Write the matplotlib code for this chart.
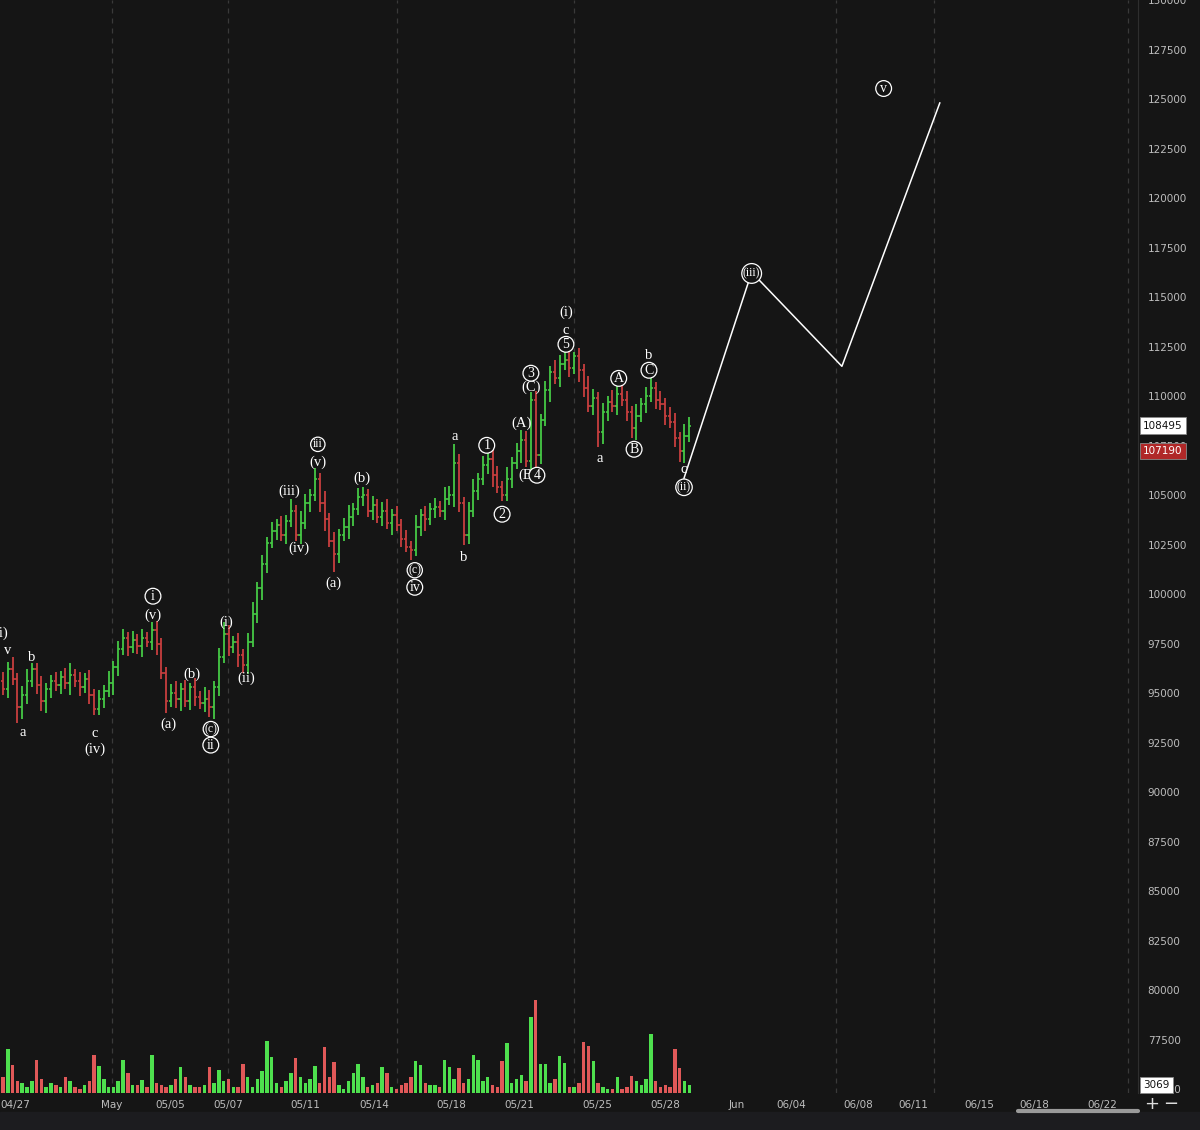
import matplotlib
matplotlib.use("Agg")
import matplotlib.pyplot as plt
from matplotlib.patches import Rectangle

# ---------------- data (prices in thousands) ----------------
closes = [95.2, 96.2, 95.7, 94.3, 94.9, 95.6, 96.2, 95.4, 94.6, 95.2,
          95.6, 95.4, 95.8, 95.5, 95.9, 95.6, 95.3, 95.7, 94.9, 94.2,
          94.7, 95.1, 95.5, 96.3, 97.2, 97.8, 97.3, 97.7, 97.4, 97.8,
          97.6, 98.2, 97.5, 96.0, 94.6, 95.0, 94.7, 95.2, 94.6, 95.3,
          94.8, 94.5, 94.7, 94.3, 95.3, 96.8, 98.0, 97.3, 97.6, 96.9,
          96.4, 97.6, 99.0, 100.3, 101.5, 102.6, 103.2, 103.5, 103.0, 103.7,
          104.2, 103.0, 103.6, 104.6, 105.0, 105.8, 104.6, 103.8, 102.7, 102.0,
          103.0, 103.4, 103.9, 104.3, 104.9, 105.0, 104.2, 104.5, 103.9, 104.2,
          103.6, 104.0, 103.5, 102.8, 102.4, 102.2, 103.4, 104.0, 103.8, 104.3,
          104.4, 104.2, 104.8, 105.0, 106.6, 104.6, 103.0, 104.2, 105.2, 105.8,
          106.5, 106.8, 106.0, 105.4, 105.0, 105.8, 106.6, 107.2, 107.8, 106.7,
          109.8, 107.0, 108.8, 110.3, 111.2, 110.9, 111.6, 111.8, 111.4, 112.0,
          111.3, 110.4, 109.5, 109.9, 108.2, 109.2, 109.7, 109.5, 110.1, 109.8,
          109.2, 108.4, 109.0, 109.6, 110.0, 110.4, 109.8, 109.6, 109.0, 108.7,
          107.9, 107.2, 108.0, 108.495]
open0 = 95.6
# wick sizes in units of 150 dollars, one digit per bar
wick_up = ("3242343232" "2323423232" "3242332323" "2432234232" "3243232323"
           "2342323232" "3243232423" "2342342323" "4232324232" "3243232342"
           "3243242323" "4323243232" "3243232423" "3242342323" "3243")
wick_dn = ("2323432324" "3232423232" "2324323234" "2342323423" "3232432324"
           "2323432323" "2432323423" "3243232323" "2423232342" "3232432323"
           "2342323242" "3232423232" "4323243232" "3242323232" "3242")
extreme_highs = [(1, 96.55), (6, 96.5), (31, 98.6), (39, 95.5), (46, 98.6), (60, 104.8),
                 (65, 106.35), (75, 105.4), (94, 107.6), (101, 107.2), (108, 108.3),
                 (110, 110.2), (117, 112.3), (119, 112.2), (128, 110.5), (135, 110.9)]
extreme_lows = [(3, 93.5), (8, 94.1), (19, 93.9), (34, 94.0), (43, 93.8), (50, 96.0),
                (61, 102.7), (69, 101.1), (85, 101.7), (96, 102.5), (104, 104.7),
                (109, 106.4), (111, 106.2), (124, 107.4), (131, 107.9), (141, 106.65)]
volumes = [16, 44, 28, 12, 10, 6, 12, 33, 14, 6,
           10, 8, 6, 16, 12, 6, 4, 8, 12, 38,
           27, 14, 6, 6, 12, 33, 20, 8, 8, 13,
           6, 38, 10, 8, 6, 8, 14, 26, 16, 8,
           6, 6, 8, 26, 10, 23, 12, 14, 6, 6,
           29, 16, 6, 14, 22, 52, 36, 10, 6, 12,
           20, 35, 16, 10, 14, 27, 10, 46, 16, 31,
           8, 4, 12, 20, 29, 16, 6, 8, 10, 26,
           20, 6, 4, 8, 10, 16, 32, 28, 10, 8,
           8, 6, 33, 26, 14, 25, 10, 14, 38, 33,
           12, 16, 8, 6, 32, 50, 10, 14, 18, 12,
           76, 93, 29, 29, 10, 14, 37, 30, 6, 6,
           10, 51, 47, 32, 10, 6, 4, 4, 16, 4,
           6, 17, 12, 8, 14, 59, 12, 6, 8, 6,
           44, 25, 12, 8]

proj_x = [141.9, 156.0, 174.8, 195.2]
proj_y = [105.85, 116.25, 111.5, 124.8]

# (bar, price, text, circled)
wave_labels = [
    (-1.2, 98.02, "(iii)", False), (1.0, 97.16, "v", False), (4.0, 93.02, "a", False),
    (6.0, 96.81, "b", False), (19.2, 92.97, "c", False), (19.2, 92.17, "(iv)", False),
    (31.25, 99.89, "i", True), (31.25, 98.93, "(v)", False), (34.4, 93.43, "(a)", False),
    (39.4, 95.95, "(b)", False), (43.3, 93.18, "(c)", True), (43.3, 92.37, "ii", True),
    (46.5, 98.58, "(i)", False), (50.6, 95.75, "(ii)", False), (59.6, 105.19, "(iii)", False),
    (61.7, 102.31, "(iv)", False), (65.6, 107.56, "iii", True), (65.6, 106.65, "(v)", False),
    (68.75, 100.55, "(a)", False), (74.8, 105.85, "(b)", False), (85.8, 101.2, "(c)", True),
    (85.8, 100.34, "iv", True), (94.2, 107.97, "a", False), (96.0, 101.86, "b", False),
    (100.8, 107.51, "1", True), (104.0, 104.03, "2", True), (108.1, 108.62, "(A)", False),
    (109.0, 106.0, "(B", False), (111.25, 106.0, "4", True), (110.0, 110.44, "(C)", False),
    (110.0, 111.15, "3", True), (117.3, 112.61, "5", True), (117.3, 113.32, "c", False),
    (117.3, 114.23, "(i)", False), (124.4, 106.86, "a", False), (128.3, 110.89, "A", True),
    (131.5, 107.31, "B", True), (134.6, 111.3, "C", True), (134.6, 112.05, "b", False),
    (141.9, 106.3, "c", False), (141.9, 105.39, "(ii)", True), (156.0, 116.19, "(iii)", True),
    (183.5, 125.53, "v", True),
]

tick_pos = [2.5, 22.7, 34.8, 46.9, 62.9, 77.3, 93.5, 107.5, 123.75, 138.1,
            152.9, 164.2, 178.3, 189.6, 203.5, 214.8, 229.0]
tick_labels = ["04/27", "May", "05/05", "05/07", "05/11", "05/14", "05/18", "05/21",
               "05/25", "05/28", "Jun", "06/04", "06/08", "06/11", "06/15", "06/18", "06/22"]
grid_pos = [22.7, 46.9, 82.1, 119.0, 173.5, 194.0, 234.4]
price_ticks = [75000 + 2500 * k for k in range(23)]
last_price = 108495
mark_price = 107190
last_volume = 3069

# ---------------- drawing ----------------
BG = "#151515"
GREEN = "#45c945"
RED = "#c83f3f"
VGREEN = "#4ee04e"
VRED = "#e05858"
YMIN, YMAX = 74800, 129975

fig = plt.figure(figsize=(12, 11.3), dpi=100, facecolor=BG)
H = 1130.0
ax = fig.add_axes([0, 37 / H, 1138 / 1200, 1093 / H])
ax.set_facecolor(BG)
ax.set_xlim(-0.625, 236.5)
ax.set_ylim(YMIN, YMAX)

n = len(closes)
opens = [open0] + closes[:-1]
highs = [max(opens[i], closes[i]) + int(wick_up[i]) * 0.15 for i in range(n)]
lows = [min(opens[i], closes[i]) - int(wick_dn[i]) * 0.15 for i in range(n)]
for i, v in extreme_highs:
    highs[i] = v
for i, v in extreme_lows:
    lows[i] = v

for i in range(n):
    o, c = opens[i] * 1000, closes[i] * 1000
    col = GREEN if c >= o else RED
    ax.vlines(i, lows[i] * 1000, highs[i] * 1000, color=col, lw=1.3)
    ax.hlines(o, i - 0.45, i, color=col, lw=1.2)
    ax.hlines(c, i, i + 0.45, color=col, lw=1.2)

for g in grid_pos:
    ax.axvline(g, color="#3a3a3a", lw=0.9, ls=(0, (4, 4)), zorder=0)

ax.plot(proj_x, [p * 1000 for p in proj_y], color="white", lw=1.1)

for bx, py, t, circ in wave_labels:
    kw = dict(ha="center", va="center", color="white",
              family=["Liberation Serif", "DejaVu Serif"], zorder=5)
    if circ:
        kw["fontsize"] = 10 if len(t) <= 2 else 8.5
        kw["bbox"] = dict(boxstyle="circle,pad=0.1", fc=BG, ec="white", lw=0.9)
    else:
        kw["fontsize"] = 10.5
    ax.text(bx, py * 1000, t, **kw)

# volume
vax = ax.twinx()
vax.set_ylim(0, 1093)
vax.axis("off")
vcols = [VGREEN if closes[i] >= opens[i] else VRED for i in range(n)]
vax.bar(range(n), volumes, width=0.72, color=vcols, align="center")

# axes styling
for s in ax.spines.values():
    s.set_visible(False)
ax.spines["right"].set_visible(True)
ax.spines["right"].set_color("#2e2e2e")
ax.yaxis.tick_right()
ax.set_yticks(price_ticks)
ax.set_yticklabels([str(p) for p in price_ticks])
ax.tick_params(axis="y", length=0, pad=7, labelsize=7.5, labelcolor="#bdbdbd")
ax.set_xticks(tick_pos)
ax.set_xticklabels(tick_labels)
ax.tick_params(axis="x", length=0, pad=5, labelsize=7.5, labelcolor="#bdbdbd")

ax_bottom = 37 / H
ax_h = 1093 / H

def fig_box(yfrac, text, fc, tc):
    fig.text(1143 / 1200, ax_bottom + yfrac * ax_h, text, ha="left", va="center",
             fontsize=7.5, color=tc, zorder=10,
             bbox=dict(boxstyle="square,pad=0.3", fc=fc, ec="#888888", lw=0.6))

fig_box((last_price - YMIN) / (YMAX - YMIN), str(last_price), "white", "#111111")
fig_box((mark_price - YMIN) / (YMAX - YMIN), str(mark_price), "#b02828", "white")
fig_box(8 / 1093, str(last_volume), "white", "#111111")

# bottom strip with scrollbar
fig.patches.append(Rectangle((0, 0), 1, 18 / H, transform=fig.transFigure, color="#1c1c1f", zorder=0))
fig.add_artist(plt.Line2D([1018 / 1200, 1138 / 1200], [19 / H, 19 / H], color="#9a9a9a", lw=3,
                          solid_capstyle="round"))
fig.text(1152 / 1200, 26 / H, "+", color="#dddddd", fontsize=13, ha="center", va="center")
fig.text(1171 / 1200, 26 / H, "\u2212", color="#dddddd", fontsize=13, ha="center", va="center")

fig.savefig("out.png", dpi=100, facecolor=BG)
